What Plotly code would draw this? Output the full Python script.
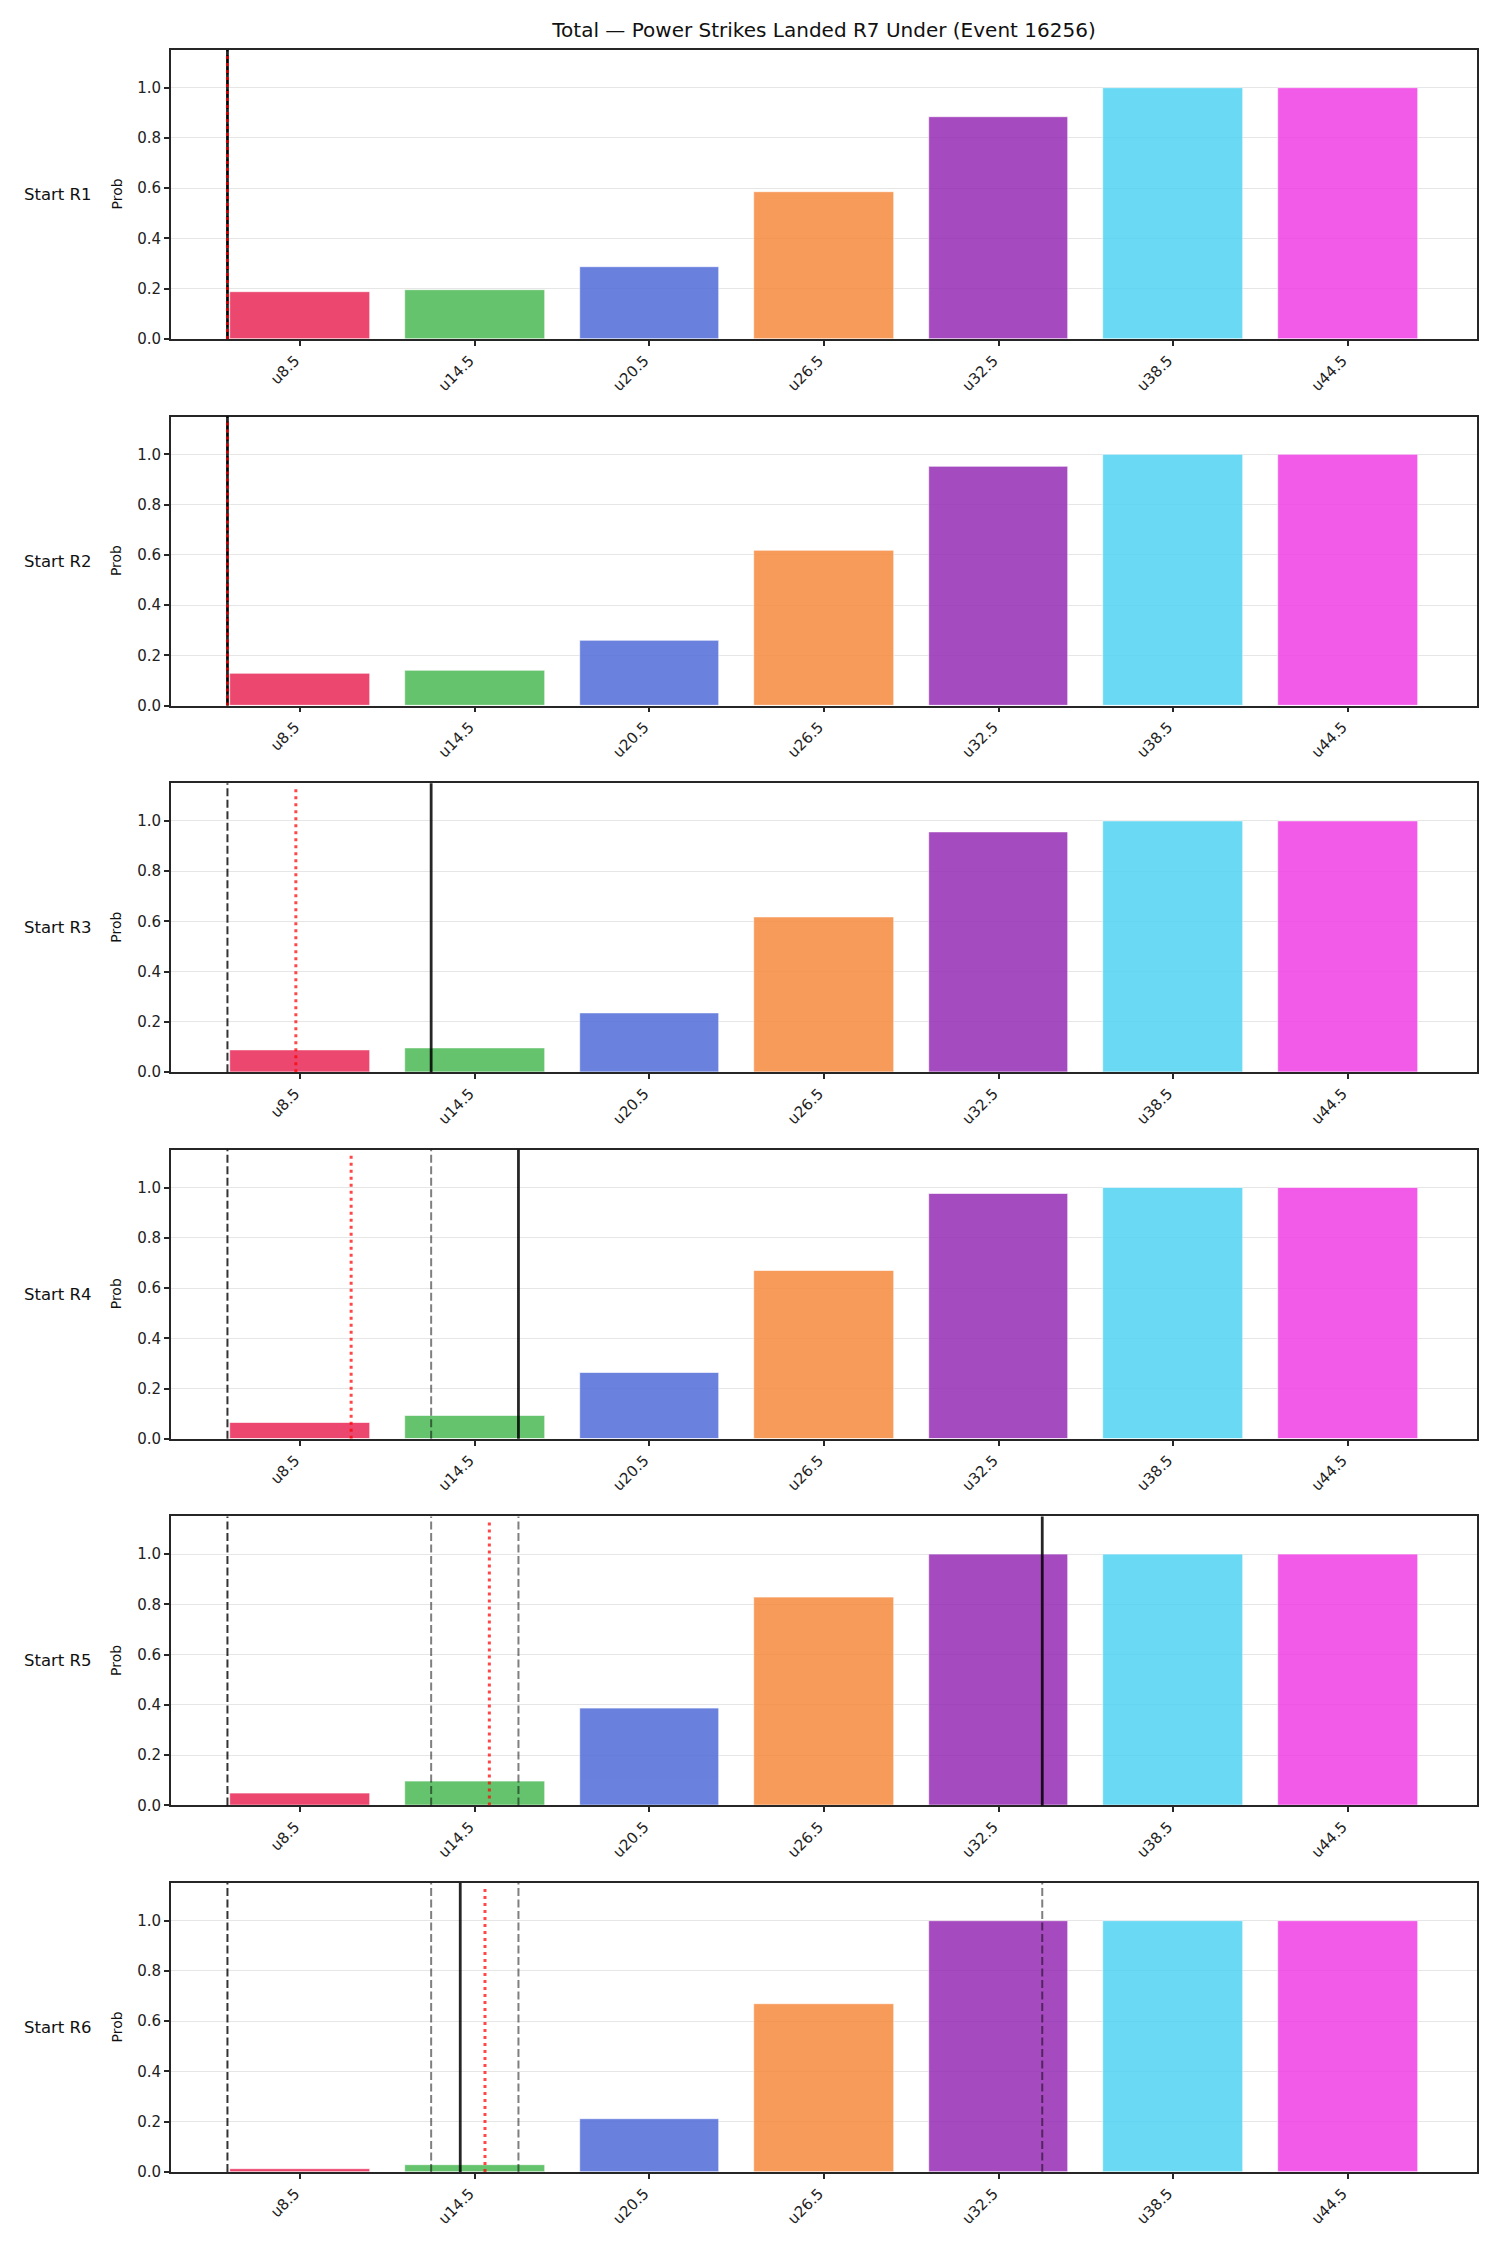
import plotly.graph_objects as go

# ---------------- data ----------------
categories = ["u8.5", "u14.5", "u20.5", "u26.5", "u32.5", "u38.5", "u44.5"]
thresholds = [8.5, 14.5, 20.5, 26.5, 32.5, 38.5, 44.5]
row_labels = ["Start R1", "Start R2", "Start R3", "Start R4", "Start R5", "Start R6"]

probs_r1 = [0.188, 0.195, 0.287, 0.583, 0.883, 1.0, 1.0]
probs_r2 = [0.129, 0.141, 0.260, 0.615, 0.950, 1.0, 1.0]
probs_r3 = [0.089, 0.097, 0.233, 0.616, 0.955, 1.0, 1.0]
probs_r4 = [0.064, 0.092, 0.263, 0.670, 0.976, 1.0, 1.0]
probs_r5 = [0.046, 0.094, 0.385, 0.826, 1.0, 1.0, 1.0]
probs_r6 = [0.013, 0.029, 0.212, 0.668, 1.0, 1.0, 1.0]
probs = [probs_r1, probs_r2, probs_r3, probs_r4, probs_r5, probs_r6]

start_value = [6, 6, 6, 6, 6, 6]                 # black dashed
prior_values = [[], [], [], [13], [13, 16], [13, 16, 34]]  # grey dashed
current_value = [6, 6, 13, 16, 34, 14]           # solid black
projected_value = [6, 6, 8.35, 10.25, 15.0, 14.85]  # red dotted

bar_colors = ["rgb(233,39,85)", "rgb(75,184,84)", "rgb(80,108,216)",
              "rgb(246,138,63)", "rgb(150,44,181)", "rgb(79,211,243)",
              "rgb(240,63,228)"]

title = "Total — Power Strikes Landed R7 Under (Event 16256)"

# ---------------- layout geometry (pixels) ----------------
W, H = 1500, 2250
ML, MR, MT, MB = 171, 23, 50, 78
PW, PH = W - ML - MR, H - MT - MB
row_h = 289
pitch = 366.6
xr = [4.06, 48.94]
yr = [0, 1.15]
FONT = "DejaVu Sans"
AX = "#262626"

fig = go.Figure()
shapes = []
annotations = []

for i in range(6):
    n = i + 1
    xa = "x" if n == 1 else f"x{n}"
    ya = "y" if n == 1 else f"y{n}"
    fig.add_trace(go.Bar(
        x=thresholds, y=probs[i], width=4.8,
        marker=dict(color=bar_colors, opacity=0.85,
                    line=dict(color="white", width=0.6)),
        xaxis=xa, yaxis=ya, showlegend=False,
        hovertext=categories,
    ))
    top_px = i * pitch
    bot_px = top_px + row_h
    d = [1 - bot_px / PH, 1 - top_px / PH]
    fig.layout[f"xaxis{'' if n == 1 else n}"] = dict(
        domain=[0, 1], anchor=ya, range=xr,
        tickmode="array", tickvals=thresholds, ticktext=categories,
        tickangle=-45, ticks="outside", ticklen=5, tickwidth=1.7, tickcolor=AX,
        ticklabelshift=-5,
        showline=True, linecolor=AX, linewidth=1.7, mirror=True,
        showgrid=False, zeroline=False,
        tickfont=dict(family=FONT, size=15, color="#222"),
    )
    fig.layout[f"yaxis{'' if n == 1 else n}"] = dict(
        domain=d, anchor=xa, range=yr,
        tickmode="array", tickvals=[0, 0.2, 0.4, 0.6, 0.8, 1.0],
        ticktext=["0.0", "0.2", "0.4", "0.6", "0.8", "1.0"],
        ticks="outside", ticklen=5, tickwidth=1.7, tickcolor=AX,
        showline=True, linecolor=AX, linewidth=1.7, mirror=True,
        showgrid=True, gridcolor="#e6e6e6", gridwidth=1, zeroline=False,
        tickfont=dict(family=FONT, size=15, color="#222"),
    )
    ydom = f"{ya} domain"
    # start line
    shapes.append(dict(type="line", xref=xa, yref=ydom, x0=start_value[i], x1=start_value[i],
                       y0=0, y1=1, line=dict(color="rgba(0,0,0,0.8)", width=2, dash="8px,3.5px")))
    for v in prior_values[i]:
        shapes.append(dict(type="line", xref=xa, yref=ydom, x0=v, x1=v, y0=0, y1=1,
                           line=dict(color="rgba(0,0,0,0.5)", width=2, dash="8px,3.5px")))
    shapes.append(dict(type="line", xref=xa, yref=ydom, x0=current_value[i], x1=current_value[i],
                       y0=0, y1=1, line=dict(color="rgba(0,0,0,0.85)", width=2.8)))
    shapes.append(dict(type="line", xref=xa, yref=ya, x0=projected_value[i], x1=projected_value[i],
                       y0=0, y1=1.13, line=dict(color="rgba(255,0,0,0.72)", width=3, dash="3px,4px")))
    # row label & y label
    yc = (d[0] + d[1]) / 2
    annotations.append(dict(text=row_labels[i], xref="paper", yref="paper",
                            x=(22 - ML) / PW, y=yc, xanchor="left", yanchor="middle",
                            showarrow=False, font=dict(family=FONT, size=16.5, color="#111")))
    annotations.append(dict(text="Prob", xref="paper", yref="paper",
                            x=(116 - ML) / PW, y=yc, xanchor="center", yanchor="middle",
                            textangle=-90, showarrow=False,
                            font=dict(family=FONT, size=14, color="#111")))

fig.update_layout(
    width=W, height=H,
    margin=dict(l=ML, r=MR, t=MT, b=MB),
    paper_bgcolor="white", plot_bgcolor="white",
    title=dict(text=title, x=(824) / W, xanchor="center", y=1 - 30 / H, yanchor="middle",
               font=dict(family=FONT, size=20, color="#111")),
    shapes=shapes, annotations=annotations,
    bargap=0,
)

fig.write_html("out.html")
